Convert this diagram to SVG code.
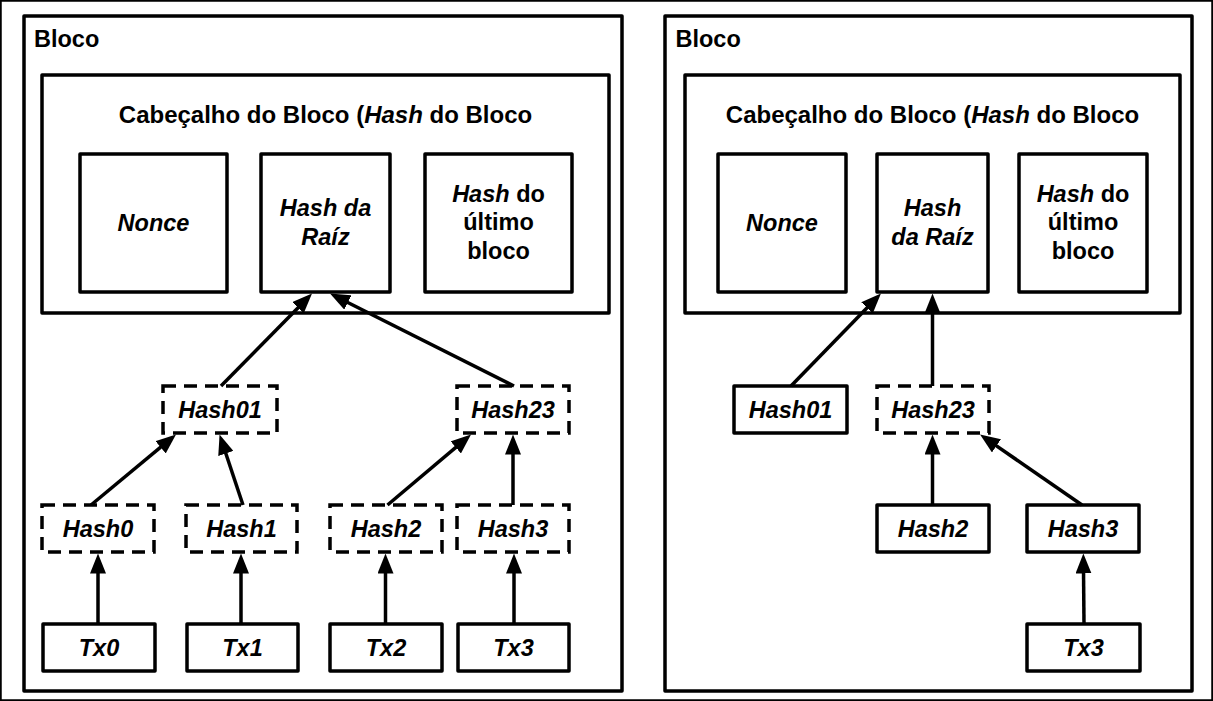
<svg xmlns="http://www.w3.org/2000/svg" width="1213" height="701" viewBox="0 0 1213 701">
<style>
rect{fill:#fff;stroke:#000;stroke-width:3.5;stroke-linejoin:round}
.d{stroke-dasharray:13 8;stroke-linejoin:miter}
text{font-family:"Liberation Sans",Arial,sans-serif;font-weight:bold;font-size:23.5px;fill:#000}
.t{font-size:24px}
.c{text-anchor:middle}
.i{font-style:italic}
.cn line{stroke:#000;stroke-width:3.5;marker-end:url(#ah)}
</style>
<defs>
<marker id="ah" markerUnits="userSpaceOnUse" markerWidth="20" markerHeight="16" refX="4" refY="8" orient="auto">
<path d="M0,0 L20,8 L0,16 z" fill="#000"/>
</marker>
</defs>
<rect fill="#fff" stroke="none" x="0" y="0" width="1213" height="701"/>

<g id="blocoA">
<rect x="24" y="16" width="598" height="675"/>
<text x="34" y="47">Bloco</text>
</g>
<g id="headerA">
<rect x="42" y="75" width="567" height="238"/>
<text class="c t" x="325.5" y="123">Cabeçalho do Bloco (<tspan class="i">Hash</tspan> do Bloco</text>
</g>
<g id="nonceA"><rect x="80" y="154" width="147" height="138"/><text class="c i" x="153.5" y="231">Nonce</text></g>
<g id="raizA"><rect x="261" y="154" width="129" height="138"/><text class="c i" x="325.5" y="216">Hash da</text><text class="c i" x="325.5" y="245">Raíz</text></g>
<g id="ultimoA"><rect x="425" y="154" width="147" height="138"/><text class="c" x="498.5" y="202"><tspan class="i">Hash</tspan> do</text><text class="c" x="498.5" y="230">último</text><text class="c" x="498.5" y="258.5">bloco</text></g>
<g id="hash01A"><rect class="d" x="163" y="386" width="114" height="47"/><text class="c i" x="220" y="418">Hash01</text></g>
<g id="hash23A"><rect class="d" x="457" y="386" width="112" height="47"/><text class="c i" x="513" y="418">Hash23</text></g>
<g id="hash0A"><rect class="d" x="42" y="505" width="112" height="47"/><text class="c i" x="98" y="537">Hash0</text></g>
<g id="hash1A"><rect class="d" x="186" y="505" width="111" height="47"/><text class="c i" x="241.5" y="537">Hash1</text></g>
<g id="hash2A"><rect class="d" x="330" y="505" width="112" height="47"/><text class="c i" x="386" y="537">Hash2</text></g>
<g id="hash3A"><rect class="d" x="457" y="505" width="112" height="47"/><text class="c i" x="513" y="537">Hash3</text></g>
<g id="tx0A"><rect x="43" y="624" width="112" height="47"/><text class="c i" x="99" y="656">Tx0</text></g>
<g id="tx1A"><rect x="187" y="624" width="111" height="47"/><text class="c i" x="242.5" y="656">Tx1</text></g>
<g id="tx2A"><rect x="330" y="624" width="112" height="47"/><text class="c i" x="386" y="656">Tx2</text></g>
<g id="tx3A"><rect x="458" y="624" width="111" height="47"/><text class="c i" x="513.5" y="656">Tx3</text></g>

<g id="blocoB">
<rect x="665" y="16" width="527" height="675"/>
<text x="675.5" y="47">Bloco</text>
</g>
<g id="headerB">
<rect x="685" y="75" width="495" height="238"/>
<text class="c t" x="932.5" y="123">Cabeçalho do Bloco (<tspan class="i">Hash</tspan> do Bloco</text>
</g>
<g id="nonceB"><rect x="718" y="154" width="128" height="138"/><text class="c i" x="782" y="231">Nonce</text></g>
<g id="raizB"><rect x="877" y="154" width="111" height="138"/><text class="c i" x="932.5" y="216">Hash</text><text class="c i" x="932.5" y="245">da Raíz</text></g>
<g id="ultimoB"><rect x="1019" y="154" width="128" height="138"/><text class="c" x="1083" y="202"><tspan class="i">Hash</tspan> do</text><text class="c" x="1083" y="230">último</text><text class="c" x="1083" y="258.5">bloco</text></g>
<g id="hash01B"><rect x="734" y="386" width="113" height="47"/><text class="c i" x="790.5" y="418">Hash01</text></g>
<g id="hash23B"><rect class="d" x="877" y="386" width="112" height="47"/><text class="c i" x="933" y="418">Hash23</text></g>
<g id="hash2B"><rect x="877" y="505" width="112" height="47"/><text class="c i" x="933" y="537">Hash2</text></g>
<g id="hash3B"><rect x="1027" y="505" width="112" height="47"/><text class="c i" x="1083" y="537">Hash3</text></g>
<g id="tx3B"><rect x="1027" y="624" width="113" height="47"/><text class="c i" x="1083.5" y="656">Tx3</text></g>

<g id="connectors" class="cn">
<line x1="98" y1="624" x2="98" y2="569.5"/>
<line x1="241" y1="624" x2="241" y2="569.5"/>
<line x1="385.5" y1="624" x2="385.5" y2="569.5"/>
<line x1="514" y1="624" x2="514" y2="569.5"/>
<line x1="91" y1="505" x2="163.7" y2="444.7"/>
<line x1="243" y1="505" x2="224.6" y2="449.7"/>
<line x1="387.5" y1="505" x2="458.8" y2="444.8"/>
<line x1="513" y1="505" x2="513" y2="450.5"/>
<line x1="221" y1="386" x2="300.8" y2="304.9"/>
<line x1="514" y1="386" x2="344.3" y2="300.7"/>
<line x1="791" y1="386" x2="869.8" y2="305"/>
<line x1="932.5" y1="386" x2="932.5" y2="309.5"/>
<line x1="932.5" y1="505" x2="932.5" y2="450.5"/>
<line x1="1082" y1="505" x2="993.2" y2="443.6"/>
<line x1="1084" y1="624" x2="1083.5" y2="569.5"/>
</g>
</svg>
